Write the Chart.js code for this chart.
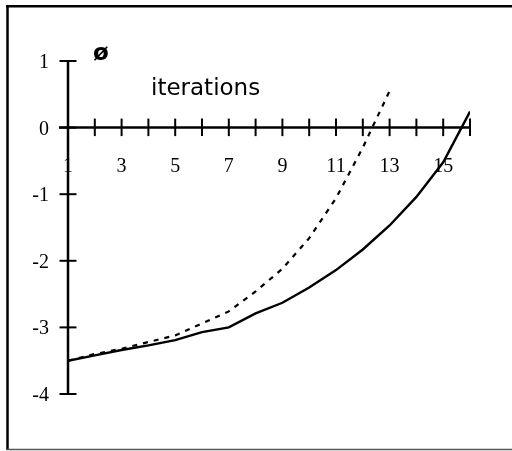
<!DOCTYPE html>
<html>
<head>
<meta charset="utf-8">
<script src="https://cdn.jsdelivr.net/npm/chart.js@4/dist/chart.umd.min.js"></script>
<style>
  body { margin: 0; background: #fff; }
  #wrap { width: 512px; height: 451px; }
</style>
</head>
<body>
<div id="wrap"><canvas id="chart" width="512" height="451"></canvas></div>
<script>
// iterations on the x axis
const iterations = [1, 2, 3, 4, 5, 6, 7, 8, 9, 10, 11, 12, 13, 14, 15, 16];
// solid curve (one value per iteration)
const solidPhi = [-3.5, -3.42, -3.34, -3.27, -3.19, -3.07, -3.0, -2.79, -2.63, -2.4, -2.14, -1.83, -1.47, -1.04, -0.52, 0.24];
// dashed curve (stops at iteration 13)
const dashedPhi = [-3.5, -3.4, -3.32, -3.22, -3.12, -2.94, -2.76, -2.46, -2.12, -1.66, -1.06, -0.3, 0.55];

const xTicks = [1, 2, 3, 4, 5, 6, 7, 8, 9, 10, 11, 12, 13, 14, 15, 16];
const xTickLabels = [1, 3, 5, 7, 9, 11, 13, 15];
const yTicks = [1, 0, -1, -2, -3, -4];

function toPoints(ys) {
  return ys.map((y, i) => ({ x: iterations[i], y }));
}

// axes crossing at y = 0, frame and labels
const axesPlugin = {
  id: "axes",
  beforeDatasetsDraw(chart) {
    const ctx = chart.ctx;
    const xs = chart.scales.x, ys = chart.scales.y;
    const x0 = xs.getPixelForValue(1);
    const y0 = ys.getPixelForValue(0);
    ctx.save();
    ctx.strokeStyle = "#000";
    ctx.lineCap = "butt";

    // y axis
    ctx.lineWidth = 2.5;
    ctx.beginPath();
    ctx.moveTo(x0, ys.getPixelForValue(1));
    ctx.lineTo(x0, ys.getPixelForValue(-4));
    ctx.stroke();
    // x axis
    ctx.beginPath();
    ctx.moveTo(x0 - 9, y0);
    ctx.lineTo(xs.getPixelForValue(16), y0);
    ctx.stroke();

    // ticks
    ctx.lineWidth = 2;
    xTicks.forEach(v => {
      const px = xs.getPixelForValue(v);
      ctx.beginPath();
      ctx.moveTo(px, y0 - 9);
      ctx.lineTo(px, y0 + 8.5);
      ctx.stroke();
    });
    yTicks.forEach(v => {
      const py = ys.getPixelForValue(v);
      ctx.beginPath();
      ctx.moveTo(x0 - 8.5, py);
      ctx.lineTo(x0 + 8.5, py);
      ctx.stroke();
    });

    // tick labels
    ctx.fillStyle = "#000";
    ctx.font = "20px 'Liberation Serif', 'Times New Roman', serif";
    ctx.textBaseline = "alphabetic";
    ctx.textAlign = "center";
    xTickLabels.forEach(v => {
      ctx.fillText(String(v), xs.getPixelForValue(v), y0 + 44);
    });
    ctx.textAlign = "right";
    yTicks.forEach(v => {
      ctx.fillText(String(v), x0 - 19, ys.getPixelForValue(v) + 7);
    });

    // titles
    ctx.textAlign = "left";
    ctx.font = "bold 23px 'DejaVu Sans', sans-serif";
    ctx.fillText("ø", 93, 60);
    ctx.font = "23px 'DejaVu Sans', sans-serif";
    ctx.fillText("iterations", 151, 95);
    ctx.restore();
  },
  afterDraw(chart) {
    const ctx = chart.ctx;
    ctx.save();
    ctx.strokeStyle = "#000";
    ctx.lineWidth = 2.5;
    ctx.beginPath();
    ctx.moveTo(7.5, 5);
    ctx.lineTo(7.5, 450);
    ctx.moveTo(6, 6.2);
    ctx.lineTo(512, 6.2);
    ctx.stroke();
    ctx.strokeStyle = "#555";
    ctx.lineWidth = 1.5;
    ctx.beginPath();
    ctx.moveTo(7, 449.5);
    ctx.lineTo(512, 449.5);
    ctx.stroke();
    ctx.restore();
  }
};

new Chart(document.getElementById("chart"), {
  type: "line",
  data: {
    datasets: [
      {
        label: "solid",
        data: toPoints(solidPhi),
        borderColor: "#000",
        borderWidth: 2.4,
        pointRadius: 0,
        tension: 0,
        fill: false
      },
      {
        label: "dashed",
        data: toPoints(dashedPhi),
        borderColor: "#000",
        borderWidth: 2.2,
        borderDash: [5, 6],
        pointRadius: 0,
        tension: 0,
        fill: false
      }
    ]
  },
  options: {
    responsive: false,
    animation: false,
    layout: { padding: { left: 68, right: 42, top: 61, bottom: 57 } },
    scales: {
      x: { type: "linear", min: 1, max: 16, display: false },
      y: { type: "linear", min: -4, max: 1, display: false }
    },
    plugins: {
      legend: { display: false },
      tooltip: { enabled: false }
    }
  },
  plugins: [axesPlugin]
});
</script>
</body>
</html>
